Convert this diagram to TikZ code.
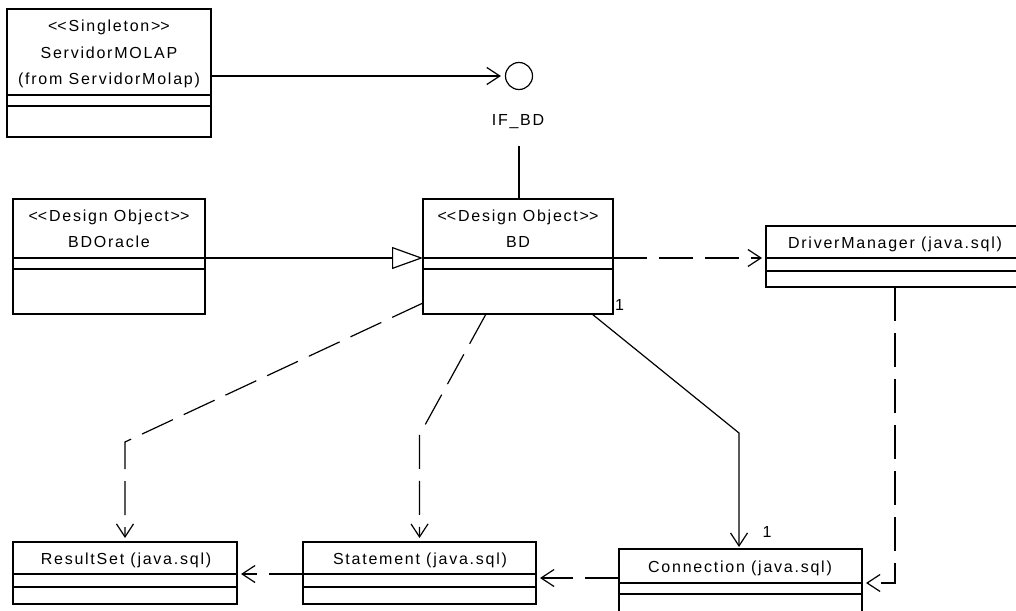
\documentclass[tikz,border=0pt]{standalone}
\usepackage{fontspec}
\newfontfamily\lbfont{Liberation Sans}[LetterSpace=11]
\usetikzlibrary{arrows.meta,calc}
\newcommand\ltlt{<\kern0pt<}
\newcommand\gtgt{>\kern0pt>}
\begin{document}
\begin{tikzpicture}[x=1pt,y=-1pt,
  box/.style={draw, line width=1.2pt, anchor=north west, inner sep=0pt, outer sep=0pt},
  lbl/.style={inner sep=0pt, font=\lbfont\fontsize{16}{19}\selectfont},
  plain/.style={line width=1.2pt},
  assoc/.style={line width=1.2pt, -{Straight Barb[length=13pt,width=17pt]}, shorten >=4pt},
  dep/.style={assoc, dash pattern=on 34pt off 12pt},
  gen/.style={line width=1.2pt, -{Triangle[open,length=31pt,width=22pt,fill=white]}}]
\useasboundingbox (0,0) rectangle (1016,610);
\clip (0,0) rectangle (1016,610);

% ServidorMOLAP
\node[box, minimum width=204pt, minimum height=128pt] (srv) at (7,9) {};
\draw[plain] ([yshift=-86pt]srv.north west) -- ([yshift=-86pt]srv.north east);
\draw[plain] ([yshift=-97pt]srv.north west) -- ([yshift=-97pt]srv.north east);
\node[lbl] (srvA) at (109,27) {\ltlt Singleton\gtgt};
\node[lbl] (srvB) at (109,53) {ServidorMOLAP};
\node[lbl] (srvC) at (109,80) {(from ServidorMolap)};

% interface
\node[draw, circle, minimum size=27pt, inner sep=0pt, line width=1.2pt] (ifc) at (519,76) {};
\node[lbl] (iflbl) at (518,122) {IF\_BD};
\coordinate (ifl) at (519,146);

% BDOracle
\node[box, minimum width=192pt, minimum height=115pt] (bdo) at (13,199) {};
\draw[plain] ([yshift=-59pt]bdo.north west) -- ([yshift=-59pt]bdo.north east);
\draw[plain] ([yshift=-70pt]bdo.north west) -- ([yshift=-70pt]bdo.north east);
\node[lbl] (bdoA) at (109,217) {\ltlt Design Object\gtgt};
\node[lbl] (bdoB) at (109,242) {BDOracle};

% BD
\node[box, minimum width=190pt, minimum height=115pt] (bd) at (423,199) {};
\draw[plain] ([yshift=-59pt]bd.north west) -- ([yshift=-59pt]bd.north east);
\draw[plain] ([yshift=-70pt]bd.north west) -- ([yshift=-70pt]bd.north east);
\node[lbl] (bdA) at (518,217) {\ltlt Design Object\gtgt};
\node[lbl] (bdB) at (518,242) {BD};

% DriverManager
\node[box, minimum width=258pt, minimum height=61pt] (dm) at (766,226) {};
\draw[plain] ([yshift=-32pt]dm.north west) -- ([yshift=-32pt]dm.north east);
\draw[plain] ([yshift=-45pt]dm.north west) -- ([yshift=-45pt]dm.north east);
\node[lbl] (dmA) at (895,244) {DriverManager (java.sql)};

% ResultSet
\node[box, minimum width=224pt, minimum height=62pt] (rs) at (13,542) {};
\draw[plain] ([yshift=-32pt]rs.north west) -- ([yshift=-32pt]rs.north east);
\draw[plain] ([yshift=-45pt]rs.north west) -- ([yshift=-45pt]rs.north east);
\node[lbl] (rsA) at (126,560) {ResultSet (java.sql)};

% Statement
\node[box, minimum width=233pt, minimum height=62pt] (st) at (303,542) {};
\draw[plain] ([yshift=-32pt]st.north west) -- ([yshift=-32pt]st.north east);
\draw[plain] ([yshift=-45pt]st.north west) -- ([yshift=-45pt]st.north east);
\node[lbl] (stA) at (420,560) {Statement (java.sql)};

% Connection
\node[box, minimum width=243pt, minimum height=80pt] (cn) at (619,549) {};
\draw[plain] ([yshift=-34pt]cn.north west) -- ([yshift=-34pt]cn.north east);
\draw[plain] ([yshift=-45pt]cn.north west) -- ([yshift=-45pt]cn.north east);
\node[lbl] (cnA) at (740,568) {Connection (java.sql)};

% multiplicities
\node[lbl, anchor=west] (m1) at (615,305) {1};
\node[lbl] (m2) at (767,532) {1};

% connectors
\draw[assoc] (srv.east |- ifc.west) -- (ifc.west);
\draw[plain] (ifl) -- (ifl |- bd.north);
\draw[gen] ([yshift=-59pt]bdo.north east) -- ([yshift=-59pt]bd.north west);
\draw[dep] ([yshift=-59pt]bd.north east) -- ([yshift=-32pt]dm.north west);
\draw[dep] (dm.south) |- ([yshift=-34pt]cn.north east);

\coordinate (k1) at (739,433);
\draw[assoc, shorten >=2pt] ([xshift=-21pt]bd.south east) -- (k1) -- (k1 |- cn.north);
\coordinate (k2) at (419.5,435);
\draw[dep] ([xshift=63pt]bd.south west) -- (k2) -- (k2 |- st.north);
\coordinate (k3) at (125,442);
\draw[dep] ([yshift=11pt]bd.south west) -- (k3) -- (k3 |- rs.north);

\coordinate (cnL) at ([yshift=-29pt]cn.north west);
\draw[dep] (cnL) -- (cnL -| st.east);
\coordinate (stL) at ([yshift=-32pt]st.north west);
\draw[dep] (stL) -- (stL -| rs.east);
\end{tikzpicture}
\end{document}
